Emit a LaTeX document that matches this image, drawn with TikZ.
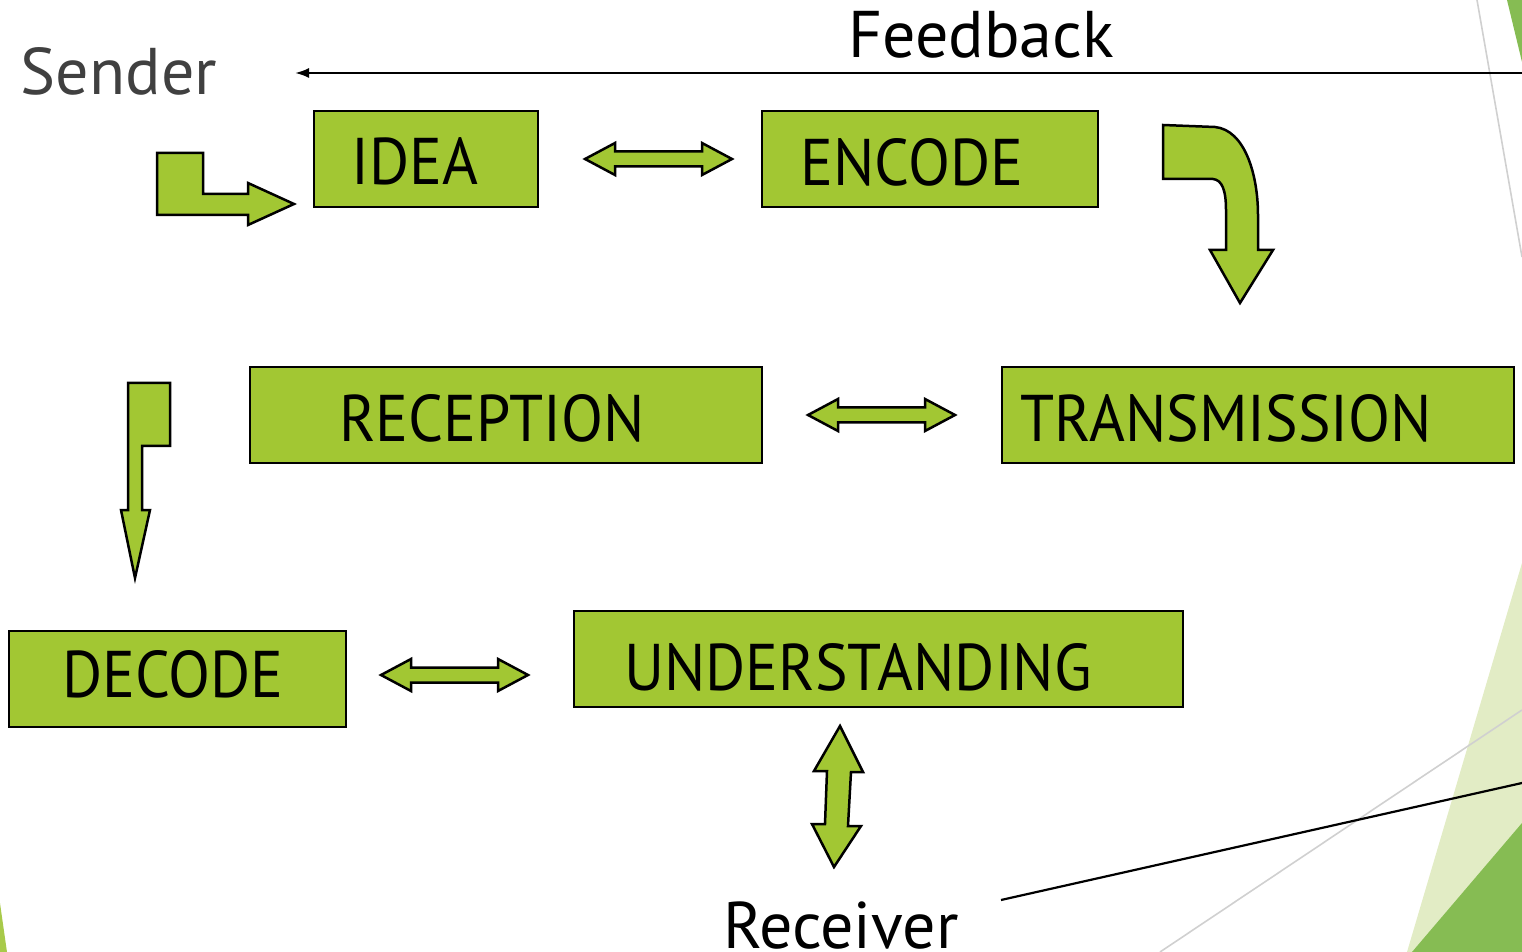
\documentclass[tikz,border=0pt]{standalone}
\usepackage{fontspec}
\setmainfont{PT Sans}
\newfontfamily\stagefont[FakeStretch=0.93]{PT Sans}
\usetikzlibrary{arrows.meta}
\definecolor{boxgreen}{HTML}{A2C733}
\definecolor{darkgreen}{HTML}{86BC53}
\definecolor{lightgreen}{HTML}{E2ECC5}
\definecolor{sliver}{HTML}{A8CA4A}
\definecolor{sendergray}{HTML}{404040}
\definecolor{thingray}{HTML}{D0D0D0}
\tikzset{
  stagebox/.style={draw=black, fill=boxgreen, line width=1.25pt, minimum height=48pt, inner sep=0pt},
  stagetext/.style={anchor=base, font=\stagefont\fontsize{33}{36}\selectfont, inner sep=0pt},
  bigtext/.style={anchor=base, font=\fontsize{33}{36}\selectfont, inner sep=0pt},
  blockarrow/.style={draw=black, fill=boxgreen, line width=1.25pt, line join=miter},
  thinline/.style={draw=thingray, line width=0.8pt},
  pics/dblarrow/.style={code={
    \draw[blockarrow] (0,0) -- (30,-16) -- (30,-7.5) -- (117,-7.5) -- (117,-16) -- (147,0)
      -- (117,16) -- (117,7.5) -- (30,7.5) -- (30,16) -- cycle;
  }}
}
\begin{document}
\begin{tikzpicture}[x=0.5pt,y=-0.5pt]
\useasboundingbox (0,0) rectangle (1522,952);
\begin{scope}
\clip (0,0) rectangle (1522,952);
% background decorations
\fill[darkgreen] (1507,0) -- (1522,0) -- (1522,62) -- cycle;
\draw[thinline] (1477,0) -- (1522,257);
\fill[lightgreen] (1522,563) -- (1407,952) -- (1522,952) -- cycle;
\fill[darkgreen] (1522,823) -- (1412,952) -- (1522,952) -- cycle;
\draw[thinline] (1522,710) -- (1160,952);
\fill[sliver] (0,903) -- (7,952) -- (0,952) -- cycle;
\end{scope}

% boxes
\node[stagebox, minimum width=112pt] (idea) at (426,159) {};
\node[stagebox, minimum width=168pt] (encode) at (930,159) {};
\node[stagebox, minimum width=256pt] (reception) at (506,415) {};
\node[stagebox, minimum width=256pt] (transmission) at (1258,415) {};
\node[stagebox, minimum width=168.5pt] (decode) at (177.5,679) {};
\node[stagebox, minimum width=304.5pt] (understanding) at (878.5,659) {};

\node[stagetext] (ideat) at (415,185) {IDEA};
\node[stagetext] (encodet) at (912,186) {ENCODE};
\node[stagetext] (receptiont) at (492,442) {RECEPTION};
\node[stagetext] (transmissiont) at (1226,442) {TRANSMISSION};
\node[stagetext] (decodet) at (173,697) {DECODE};
\node[stagetext] (understandingt) at (858,690) {UNDERSTANDING};

% labels
\node[bigtext, text=sendergray] (sender) at (119,95) {Sender};
\node[bigtext] (feedback) at (981,58) {Feedback};
\node[bigtext] (receiver) at (841,948) {Receiver};

% feedback line
\coordinate (fbstart) at (1522,73);
\coordinate (fbend) at (295,73);
\draw[line width=1.1pt, -{Latex[length=7pt,width=5pt]}] (fbstart) -- (fbend);

% receiver line
\coordinate (rcvend) at (1522,783);
\coordinate (rcvstart) at (1001,900);
\draw[line width=1.1pt] (rcvstart) -- (rcvend);

% L-shaped arrow to IDEA
\draw[blockarrow] (157,153) -- (203,153) -- (203,194) -- (248,194) -- (248,183)
  -- (294,204) -- (248,225) -- (248,215) -- (157,215) -- cycle;

% curved arrow from ENCODE to TRANSMISSION
\draw[blockarrow] (1163,125) -- (1215,127) .. controls (1245,130) and (1258,175) .. (1258,215)
  -- (1258,250) -- (1273,250) -- (1240,303) -- (1210,250) -- (1226,250) -- (1226,210)
  .. controls (1226,190) and (1222,180) .. (1213,179) -- (1163,179) -- cycle;

% down arrow to DECODE
\draw[blockarrow] (128,383) -- (170,383) -- (170,446) -- (142,446) -- (142,510) -- (150,510)
  -- (135,578) -- (121,510) -- (128,510) -- cycle;

% up-down arrow
\draw[blockarrow] (840,726) -- (863,772) -- (851,772) -- (848,826) -- (861,826) -- (834,867)
  -- (812,824) -- (825,824) -- (827,771) -- (814,771) -- cycle;

% double arrows
\pic at (585,159) {dblarrow};
\pic at (808,415) {dblarrow};
\pic at (381,675) {dblarrow};
\end{tikzpicture}
\end{document}
